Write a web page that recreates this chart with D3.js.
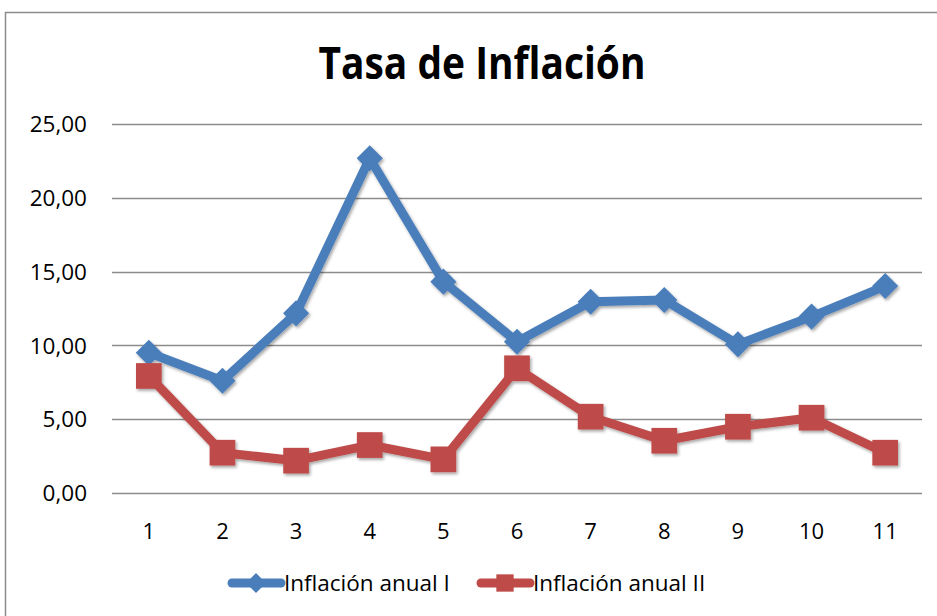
<html>
<head>
<script src="https://d3js.org/d3.v7.min.js"></script>
<style>
body { margin:0; background:#fff; }
text { font-family: "Open Sans", "Noto Sans", sans-serif; }
</style>
</head>
<body>
<script>
var width = 937;
var height = 616;
var margin = {top:124, right:15, bottom:123, left:112};
var w = width - margin.left - margin.right;
var h = height - margin.top - margin.bottom;

var periods = ["1","2","3","4","5","6","7","8","9","10","11"];
var serieI = [9.50, 7.60, 12.17, 22.68, 14.32, 10.25, 12.96, 13.08, 10.07, 11.95, 14.02];
var serieII = [7.93, 2.73, 2.19, 3.25, 2.28, 8.45, 5.17, 3.54, 4.49, 5.10, 2.73];
var yTicks = [0, 5, 10, 15, 20, 25];
var names = ["Inflación anual I", "Inflación anual II"];
var colors = ["#4a7ebb", "#be4b48"];

var svg = d3.select("body").append("svg")
    .attr("width", width)
    .attr("height", height);

// frame of the chart area
svg.append("rect")
    .attr("x", 5.5).attr("y", 12.5)
    .attr("width", 1000).attr("height", 700)
    .attr("fill", "none")
    .attr("stroke", "#8c8c8c")
    .attr("stroke-width", 1.5);

var defs = svg.append("defs");
var f = defs.append("filter").attr("id", "shadow")
    .attr("x", "-50%").attr("y", "-50%").attr("width", "200%").attr("height", "200%");
f.append("feDropShadow")
    .attr("dx", 1.5).attr("dy", 2).attr("stdDeviation", 1.8)
    .attr("flood-color", "#000").attr("flood-opacity", 0.35);

var g = svg.append("g")
    .attr("transform", "translate(" + margin.left + "," + margin.top + ")");

var x = d3.scaleBand().domain(periods).range([0, w]);
var y = d3.scaleLinear().domain([0, 25]).range([h, 0]);

// grid
g.append("g")
  .selectAll("line")
  .data(yTicks)
  .enter().append("line")
    .attr("x1", 0).attr("x2", w)
    .attr("y1", function(d) { return Math.round(y(d)) + 0.5; })
    .attr("y2", function(d) { return Math.round(y(d)) + 0.5; })
    .attr("stroke", "#8c8c8c")
    .attr("stroke-width", 1.5);

// y labels
g.append("g")
  .selectAll("text")
  .data(yTicks)
  .enter().append("text")
    .attr("x", -25)
    .attr("y", function(d) { return y(d); })
    .attr("dy", "0.36em")
    .attr("text-anchor", "end")
    .attr("font-size", 22.5)
    .attr("fill", "#000")
    .text(function(d) { return d3.format(".2f")(d).replace(".", ","); });

// x labels
g.append("g")
  .selectAll("text")
  .data(periods)
  .enter().append("text")
    .attr("x", function(d) { return x(d) + x.bandwidth() / 2; })
    .attr("y", h + 46)
    .attr("text-anchor", "middle")
    .attr("font-size", 22)
    .attr("fill", "#000")
    .text(function(d) { return d; });

// title
svg.append("text")
    .attr("x", 482)
    .attr("y", 79)
    .attr("text-anchor", "middle")
    .attr("font-size", 45)
    .attr("font-weight", "bold")
    .attr("textLength", 327)
    .attr("lengthAdjust", "spacingAndGlyphs")
    .attr("fill", "#000")
    .text("Tasa de Inflación");

var line = d3.line()
    .x(function(d, i) { return x(periods[i]) + x.bandwidth() / 2; })
    .y(function(d) { return y(d); });

function drawSeries(vals, color, shape) {
  var s = g.append("g").attr("filter", "url(#shadow)");
  s.append("path")
    .datum(vals)
    .attr("d", line)
    .attr("fill", "none")
    .attr("stroke", color)
    .attr("stroke-width", 9)
    .attr("stroke-linejoin", "round");
  s.selectAll(".m")
    .data(vals)
    .enter().append("path")
      .attr("class", "m")
      .attr("d", shape == "diamond" ? d3.symbol().type(d3.symbolSquare).size(340)() : d3.symbol().type(d3.symbolSquare).size(660)())
      .attr("transform", function(d, i) {
        var t = "translate(" + (x(periods[i]) + x.bandwidth() / 2) + "," + y(d) + ")";
        return shape == "diamond" ? t + " rotate(45)" : t;
      })
      .attr("fill", color);
}
drawSeries(serieI, colors[0], "diamond");
drawSeries(serieII, colors[1], "square");

// legend
var legend = svg.append("g");
var lx = [229, 478];
names.forEach(function(n, i) {
  var lg = legend.append("g").attr("transform", "translate(" + lx[i] + ",583)");
  lg.append("line")
    .attr("x1", 3).attr("x2", 52)
    .attr("stroke", colors[i])
    .attr("stroke-width", 9)
    .attr("stroke-linecap", "round");
  lg.append("path")
    .attr("d", i == 0 ? d3.symbol().type(d3.symbolSquare).size(200)() : d3.symbol().type(d3.symbolSquare).size(300)())
    .attr("transform", "translate(27,0)" + (i == 0 ? " rotate(45)" : ""))
    .attr("fill", colors[i]);
  lg.append("text")
    .attr("x", 55)
    .attr("dy", "0.36em")
    .attr("font-size", 22.5)
    .attr("fill", "#000")
    .text(n);
});
</script>
</body>
</html>
